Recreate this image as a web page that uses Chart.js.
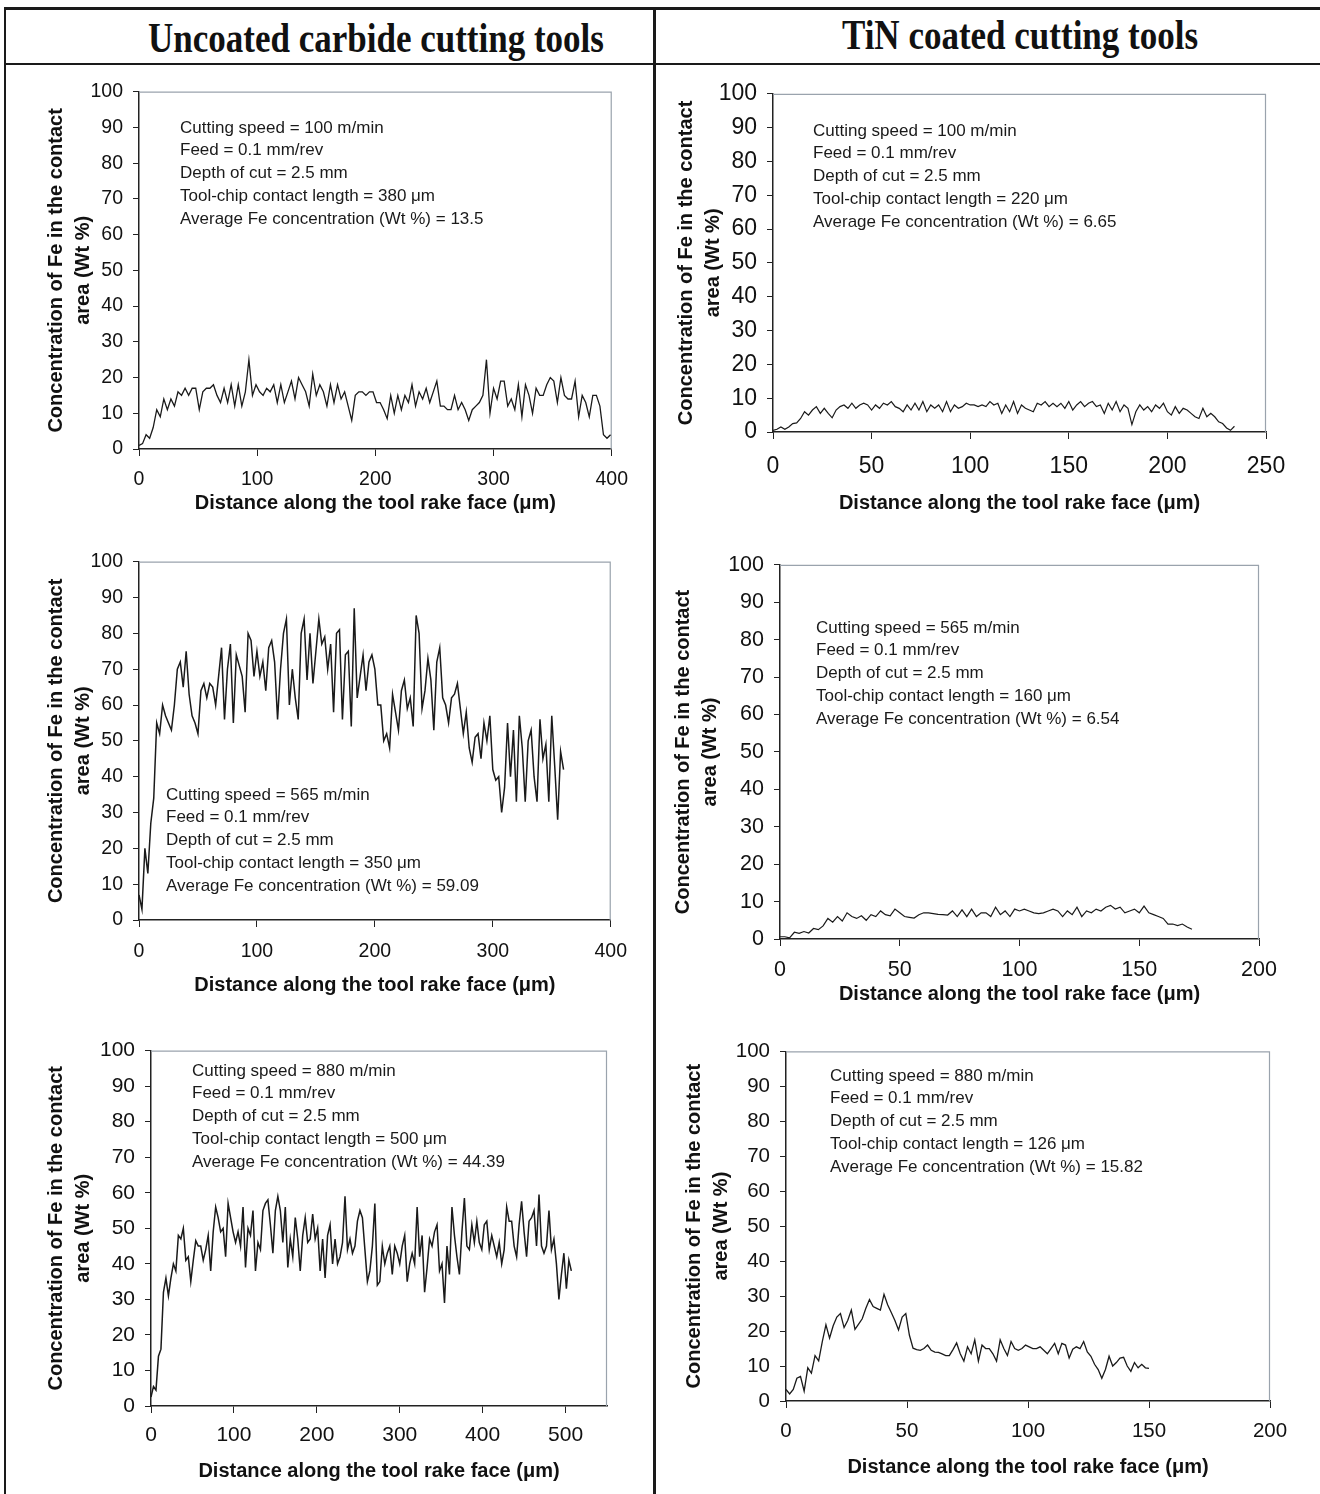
<!DOCTYPE html>
<html>
<head>
<meta charset="utf-8">
<script src="https://cdn.jsdelivr.net/npm/chart.js@4.4.1/dist/chart.umd.min.js"></script>
<style>
  body { margin: 0; background: #fff; width: 1320px; height: 1494px; position: relative; overflow: hidden;
         font-family: 'Liberation Sans', Arial, sans-serif; color: #111; }
  .rule { position: absolute; background: #1a1a1a; }
  .head { position: absolute; font-family: 'Liberation Serif', 'Times New Roman', serif; font-weight: bold;
          font-size: 35px; white-space: nowrap; transform: translateX(-50%) scaleY(1.2); color: #111; }
  .note { position: absolute; font-size: 17px; line-height: 22.8px; white-space: nowrap; color: #1a1a1a; }
</style>
</head>
<body>

<div class="rule" style="left:4px; top:7px; width:1316px; height:3px"></div>
<div class="rule" style="left:4px; top:7px; width:2px; height:1487px"></div>
<div class="rule" style="left:4px; top:63px; width:1316px; height:2px"></div>
<div class="rule" style="left:653px; top:7px; width:3px; height:1487px"></div>
<div class="head" style="left:376px; top:19px">Uncoated carbide cutting tools</div>
<div class="head" style="left:1020px; top:16px">TiN coated cutting tools</div>

<script>
// Fe concentration (Wt %) along the rake face
// uncoated carbide, 100 m/min, one value every 3 um
const uncoated100Step = 3;
const uncoated100 = [
  1, 1.5, 4, 3, 6, 11, 9, 14, 11, 14,
  12, 16, 15, 17, 15, 17, 17, 11, 16, 17,
  17, 18, 15, 13, 17, 13, 18, 12, 18, 12,
  16, 25, 15, 18, 16, 15, 17, 16, 18, 13,
  18, 13, 16, 19, 14, 20, 18, 16, 12, 21,
  15, 18, 16, 12, 18, 13, 18, 14, 16, 12,
  8, 15, 16, 16, 15, 16, 16, 13, 13, 11,
  8.5, 15, 10, 15, 11, 15, 13, 18, 12, 16,
  14, 17, 13, 16, 19, 12, 12, 11, 11, 15,
  11, 13, 11, 8, 11, 12, 13, 15, 25, 10,
  17, 14, 19, 19, 12, 14, 11, 18, 9, 18,
  15, 10, 17, 15, 15, 18, 20, 19, 13, 20,
  15, 14, 14, 19, 9, 15, 13, 9, 15, 15,
  12, 4, 3, 4
];

// TiN coated, 100 m/min, every 2 um
const tin100Step = 2;
const tin100 = [
  0.5, 0.8, 1.5, 0.8, 1.5, 2.5, 2.7, 4, 6, 5,
  6.5, 7.5, 5.5, 7, 5.5, 4.2, 6.5, 7.5, 8, 7,
  8.5, 7, 8, 8.5, 8, 6.5, 8, 7, 8.5, 8,
  9, 7.5, 7, 6, 8, 6.5, 8.5, 6.5, 9, 6,
  8, 7, 8, 6, 9, 6, 8, 7, 7.5, 8.5,
  8, 8, 7.5, 8, 7.5, 9, 8, 8.5, 5.5, 8,
  6, 9, 5.5, 8, 7, 6.5, 6, 8.5, 8, 9,
  7.5, 8.5, 7.5, 8.5, 7, 9, 6.5, 8, 9, 7.5,
  8.5, 9, 7.5, 8, 5.5, 8.5, 6.5, 9, 6, 8,
  7, 2.2, 6, 8, 6.5, 7.5, 6, 8, 7, 8.5,
  6, 5, 7.5, 5.5, 7, 6.5, 5.5, 4.5, 4, 7,
  4.5, 5.5, 4.5, 3, 2.5, 1.2, 0.5, 1.7
];

// uncoated carbide, 565 m/min, every 2.5 um
const uncoated565Step = 2.5;
const uncoated565 = [
  7, 3, 20, 13, 27, 34, 55, 52, 60, 57,
  55, 53, 60, 70, 72, 65, 75, 63, 57, 55,
  52, 64, 66, 62, 66, 65, 60, 68, 76, 56,
  70, 77, 55, 74, 71, 68, 58, 80, 78, 68,
  75, 68, 72, 64, 76, 78, 72, 56, 70, 80,
  84, 60, 70, 62, 56, 80, 84, 67, 80, 66,
  75, 84, 77, 79, 70, 77, 58, 80, 81, 56,
  74, 75, 54, 87, 62, 68, 74, 64, 72, 74,
  70, 60, 60, 50, 52, 48, 63, 58, 53, 64,
  67, 59, 62, 54, 85, 80, 59, 64, 73, 67,
  53, 72, 76, 62, 60, 55, 62, 63, 66, 59,
  52, 58, 48, 44, 51, 52, 45, 55, 50, 57,
  42, 39, 40, 30, 37, 55, 40, 53, 33, 57,
  48, 33, 50, 53, 40, 33, 56, 45, 49, 33,
  57, 43, 28, 47, 42
];

// TiN coated, 565 m/min, every 2 um
const tin565Step = 2;
const tin565 = [
  0.6, 0.6, 0.3, 1.8, 1.5, 2, 1.6, 2.8, 2.5, 3.5,
  5.5, 4.5, 6, 4.8, 7, 6, 5.5, 6.2, 5, 6.5,
  6, 7.5, 6.5, 6.2, 8, 7, 6, 5.8, 5.6, 6.5,
  7, 7, 6.8, 6.6, 6.5, 6.4, 7.5, 6, 7.8, 6,
  8, 6, 7, 7, 6, 8.5, 6.5, 7.5, 6, 8,
  7.5, 8, 7.5, 7, 6.8, 7, 7.5, 8, 7.5, 6,
  7.5, 6.5, 8.5, 6, 7.5, 7, 8, 7.5, 8.5, 9,
  8, 8.5, 7, 7.5, 8, 7, 8.8, 7, 6.5, 6,
  5.5, 4, 4, 3.6, 4, 3.2, 2.6
];

// uncoated carbide, 880 m/min, every 3 um
const uncoated880Step = 3;
const uncoated880 = [
  2.5, 5.5, 4.5, 14, 16, 32, 36, 31, 36, 40,
  38, 48, 47, 50, 41, 42, 35, 41, 46.5, 45,
  45, 41, 44, 48, 38, 49, 56, 53, 49, 50,
  42, 57, 53, 49, 46, 49, 45, 56, 39, 50,
  48, 55, 38, 46, 44, 55, 57, 58, 51, 43,
  55, 59, 55, 46, 56, 39, 47, 42, 53, 47,
  38, 48, 53, 46, 47, 54, 47, 50, 38, 47,
  36, 48, 51, 40, 47, 40, 42, 46, 59, 44,
  47, 43, 45, 52, 55, 53, 44, 35, 38, 45,
  57, 34, 35, 45, 40, 43, 45, 37, 45, 43,
  40, 45, 48, 35, 40, 43, 40, 56, 42, 48,
  32, 39, 47, 45, 49, 51, 38, 40, 29, 45,
  37, 56, 48, 42, 37, 49, 58.5, 45, 44, 51,
  46, 52, 46, 44, 51, 52, 44, 48, 45, 42,
  46, 40, 44, 56, 52, 52, 45, 42, 51, 57.6,
  49, 42, 52, 53, 55, 45, 59.5, 45, 43, 45,
  55, 44, 47, 40, 30, 37, 43, 33, 41, 38
];

// TiN coated, 880 m/min, every 1.5 um
const tin880Step = 1.5;
const tin880 = [
  3.3, 2, 3.3, 6.5, 7, 2.8, 9.5, 8, 13, 11.5,
  17, 21.8, 18, 21.5, 24, 25, 21, 23, 26, 20.5,
  22, 23.5, 26.5, 29, 27, 26.5, 26, 30.5, 27.5, 25.3,
  23, 20.3, 24, 25, 18.8, 15.1, 14.7, 14.5, 15, 16,
  14.5, 14, 13.9, 13.5, 13, 13, 14.7, 16.6, 13.5, 11.4,
  15.5, 13.5, 17.5, 11.4, 16, 15, 15, 13.5, 11.4, 17.5,
  15, 13, 17, 15, 14.5, 15, 16, 15.5, 15, 15,
  15.5, 14.5, 13.5, 15, 16.5, 13.5, 16.5, 16, 12.3, 14.8,
  15.5, 15, 17, 14, 12.8, 10.5, 9, 6.5, 9, 12.8,
  10, 11, 12.3, 12.5, 10, 8.5, 11, 9.5, 10.5, 9.5,
  9.3
];

const yTicks = [0, 100, 10];
const yTitle = ['Concentration of Fe in the contact', 'area (Wt %)'];
const xTitle = 'Distance along the tool rake face (\u03bcm)';

const notes100u = ['Cutting speed = 100 m/min', 'Feed = 0.1 mm/rev', 'Depth of cut = 2.5 mm',
  'Tool-chip contact length = 380 \u03bcm', 'Average Fe concentration (Wt %) = 13.5'];
const notes100t = ['Cutting speed = 100 m/min', 'Feed = 0.1 mm/rev', 'Depth of cut = 2.5 mm',
  'Tool-chip contact length = 220 \u03bcm', 'Average Fe concentration (Wt %) = 6.65'];
const notes565u = ['Cutting speed = 565 m/min', 'Feed = 0.1 mm/rev', 'Depth of cut = 2.5 mm',
  'Tool-chip contact length = 350 \u03bcm', 'Average Fe concentration (Wt %) = 59.09'];
const notes565t = ['Cutting speed = 565 m/min', 'Feed = 0.1 mm/rev', 'Depth of cut = 2.5 mm',
  'Tool-chip contact length = 160 \u03bcm', 'Average Fe concentration (Wt %) = 6.54'];
const notes880u = ['Cutting speed = 880 m/min', 'Feed = 0.1 mm/rev', 'Depth of cut = 2.5 mm',
  'Tool-chip contact length = 500 \u03bcm', 'Average Fe concentration (Wt %) = 44.39'];
const notes880t = ['Cutting speed = 880 m/min', 'Feed = 0.1 mm/rev', 'Depth of cut = 2.5 mm',
  'Tool-chip contact length = 126 \u03bcm', 'Average Fe concentration (Wt %) = 15.82'];

Chart.defaults.font.family = "'Liberation Sans', Arial, sans-serif";
Chart.defaults.color = '#111';

// grey Excel plot-area border on top and right
const plotFrame = {
  id: 'plotFrame',
  beforeDatasetsDraw(chart) {
    const { ctx, chartArea: a } = chart;
    ctx.save();
    ctx.strokeStyle = '#9aa3ad';
    ctx.lineWidth = 1.2;
    ctx.beginPath();
    ctx.moveTo(a.left, a.top + 0.5);
    ctx.lineTo(a.right - 0.5, a.top + 0.5);
    ctx.lineTo(a.right - 0.5, a.bottom);
    ctx.stroke();
    ctx.restore();
  }
};

function panel(p) {
  const cv = document.createElement('canvas');
  cv.width = p.box.w;
  cv.height = p.box.h;
  cv.style.cssText = `position:absolute;left:${p.box.x}px;top:${p.box.y}px;width:${p.box.w}px;height:${p.box.h}px`;
  document.body.appendChild(cv);

  const pts = p.values.map((v, i) => ({ x: i * p.step, y: v }));

  new Chart(cv, {
    type: 'line',
    data: { datasets: [{ data: pts, borderColor: '#1a1a1a', borderWidth: p.lw, pointRadius: 0, tension: 0, fill: false }] },
    options: {
      responsive: false,
      animation: false,
      events: [],
      layout: { padding: { top: p.plot.t - p.box.y, right: p.box.x + p.box.w - p.plot.r, left: 0, bottom: 0 } },
      plugins: { legend: { display: false }, tooltip: { enabled: false } },
      scales: {
        x: {
          type: 'linear', min: 0, max: p.xMax,
          afterFit: s => { s.height = p.box.y + p.box.h - p.plot.b; },
          ticks: { stepSize: p.xStep, includeBounds: false, maxRotation: 0, font: { size: p.tick }, color: '#111', padding: p.xPad },
          grid: { drawOnChartArea: false, tickLength: 7, color: '#222' },
          border: { color: '#222', width: 1.5 },
          title: { display: true, text: xTitle, color: '#111', font: { size: 20, weight: 'bold', lineHeight: 1.2 }, padding: { top: 0, bottom: 4 } }
        },
        y: {
          min: yTicks[0], max: yTicks[1],
          afterFit: s => { s.width = p.plot.l - p.box.x; },
          ticks: { stepSize: yTicks[2], font: { size: p.tick }, color: '#111', padding: 10 },
          grid: { drawOnChartArea: false, tickLength: 6, color: '#222' },
          border: { color: '#222', width: 1.5 },
          title: { display: true, text: yTitle, color: '#111', font: { size: 20, weight: 'bold', lineHeight: 1.335 }, padding: { top: 13, bottom: 0 } }
        }
      }
    },
    plugins: [plotFrame]
  });

  const n = document.createElement('div');
  n.className = 'note';
  n.style.left = p.note.x + 'px';
  n.style.top = (p.note.y - 11.4) + 'px';
  n.innerHTML = p.lines.join('<br>');
  document.body.appendChild(n);
}

panel({ values: uncoated100, step: uncoated100Step, xMax: 400, xStep: 100, tick: 19.5, xPad: 12, lw: 1.3,
  plot: { l: 139, t: 87, r: 613, b: 449 }, box: { x: 30, y: 70, w: 610, h: 449 },
  note: { x: 180, y: 128 }, lines: notes100u });

panel({ values: tin100, step: tin100Step, xMax: 250, xStep: 50, tick: 23, xPad: 14, lw: 1.2,
  plot: { l: 773, t: 90, r: 1266, b: 432 }, box: { x: 660, y: 70, w: 640, h: 449 },
  note: { x: 813, y: 131 }, lines: notes100t });

panel({ values: uncoated565, step: uncoated565Step, xMax: 400, xStep: 100, tick: 19.5, xPad: 13, lw: 1.5,
  plot: { l: 139, t: 560, r: 611, b: 920 }, box: { x: 30, y: 540, w: 610, h: 461 },
  note: { x: 166, y: 795 }, lines: notes565u });

panel({ values: tin565, step: tin565Step, xMax: 200, xStep: 50, tick: 21.5, xPad: 11, lw: 1.2,
  plot: { l: 780, t: 562, r: 1259, b: 939 }, box: { x: 657, y: 542, w: 643, h: 468 },
  note: { x: 816, y: 628 }, lines: notes565t });

panel({ values: uncoated880, step: uncoated880Step, xMax: 550, xStep: 100, tick: 21, xPad: 10, lw: 1.5,
  plot: { l: 151, t: 1048, r: 607, b: 1406 }, box: { x: 30, y: 1028, w: 610, h: 459 },
  note: { x: 192, y: 1071 }, lines: notes880u });

panel({ values: tin880, step: tin880Step, xMax: 200, xStep: 50, tick: 20.5, xPad: 11, lw: 1.3,
  plot: { l: 786, t: 1049, r: 1270, b: 1401 }, box: { x: 668, y: 1029, w: 632, h: 454 },
  note: { x: 830, y: 1076 }, lines: notes880t });
</script>
</body>
</html>
